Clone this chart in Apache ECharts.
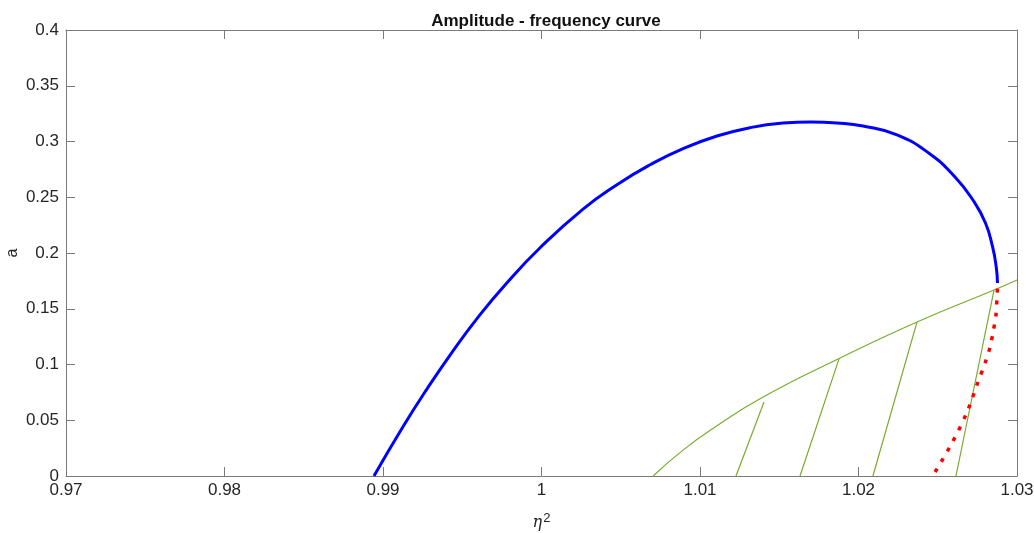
<!DOCTYPE html>
<html>
<head>
<meta charset="utf-8">
<script src="https://cdn.jsdelivr.net/npm/echarts@6/dist/echarts.min.js"></script>
<style>html,body{margin:0;padding:0;background:#fff}#c{width:1034px;height:533px}</style>
</head>
<body>
<div id="c"></div>
<script>
// Stable branch (blue)
const blueX = [0.98943, 0.99126, 0.99278, 0.99442, 0.99599, 0.99770, 0.99991, 1.00262, 1.00476, 1.00685, 1.00893, 1.01107, 1.01315, 1.01524, 1.01700, 1.01864, 1.02028, 1.02243, 1.02451, 1.02609, 1.02722, 1.02801, 1.02846, 1.02869, 1.02877];
const blueY = [0.0, 0.0442, 0.0782, 0.1123, 0.1423, 0.1714, 0.2047, 0.2394, 0.2613, 0.2791, 0.2936, 0.3049, 0.3124, 0.3165, 0.3175, 0.3166, 0.3139, 0.3060, 0.2888, 0.2682, 0.2475, 0.2269, 0.2054, 0.1874, 0.1731];
// Unstable branch (red dotted)
const redX = [1.02483, 1.0259, 1.02685, 1.02754, 1.02798, 1.0283, 1.02849, 1.02867, 1.02874, 1.02877];
const redY = [0.0036, 0.0296, 0.0574, 0.0843, 0.101, 0.1157, 0.129, 0.144, 0.1605, 0.168];
// Boundary curve (green)
const greenX = [1.00704, 1.00893, 1.01082, 1.01398, 1.01871, 1.02369, 1.02855, 1.03];
const greenY = [0.0, 0.0232, 0.0427, 0.0708, 0.1049, 0.1381, 0.1668, 0.1758];
// Hatch lines (green) : [x0, y0, x1, y1]
const hatch1 = [1.01227, 0.0, 1.01404, 0.0664];
const hatch2 = [1.01631, 0.0, 1.01877, 0.1050];
const hatch3 = [1.02091, 0.0, 1.02369, 0.1380];
const hatch4 = [1.02615, 0.0, 1.02855, 0.1668];
// Axis ticks
const xMin = 0.97, xMax = 1.03, xStep = 0.01;
const yMin = 0, yMax = 0.4, yStep = 0.05;

const zip = (xs, ys) => xs.map((x, i) => [x, ys[i]]);
const seg = h => [[h[0], h[1]], [h[2], h[3]]];

const axisColor = '#7a7a7a';
const font = '"Liberation Sans", Arial, Helvetica, sans-serif';
const green = '#77AC30';

const chart = echarts.init(document.getElementById('c'), null, {renderer: 'canvas'});
const tickIn = {show: true, inside: true, length: 9, lineStyle: {color: axisColor, width: 1}};
const hatchSeries = [hatch1, hatch2, hatch3, hatch4].map(h => ({
  type: 'line', data: seg(h), showSymbol: false, symbol: 'none',
  lineStyle: {color: green, width: 1.2}, z: 2, animation: false
}));

chart.setOption({
  animation: false,
  backgroundColor: '#fff',
  title: {
    text: 'Amplitude - frequency curve', left: 541, top: 8, textAlign: 'center',
    textStyle: {fontFamily: font, fontSize: 17, fontWeight: 'bold', color: '#111'}
  },
  grid: {left: 66, right: 17, top: 30, bottom: 57, containLabel: false, outerBoundsMode: 'none'},
  xAxis: [{
    type: 'value', min: xMin, max: xMax, interval: xStep,
    axisLine: {show: true, onZero: false, lineStyle: {color: axisColor, width: 1}},
    axisTick: tickIn, splitLine: {show: false},
    axisLabel: {margin: 6, fontFamily: font, fontSize: 17, color: '#262626'},
    name: '{i|η}{s|2}', nameLocation: 'middle', nameGap: 36, nameMoveOverlap: false,
    nameTextStyle: {
      rich: {
        i: {fontFamily: '"DejaVu Serif", serif', fontStyle: 'italic', fontSize: 16, color: '#262626', verticalAlign: 'bottom'},
        s: {fontFamily: font, fontSize: 13, color: '#262626', verticalAlign: 'top', padding: [0, 0, 6, 1]}
      }
    }
  }, {
    type: 'value', position: 'top', min: xMin, max: xMax, interval: xStep,
    axisLine: {show: true, onZero: false, lineStyle: {color: axisColor, width: 1}},
    axisTick: tickIn, axisLabel: {show: false}, splitLine: {show: false}
  }],
  yAxis: [{
    type: 'value', min: yMin, max: yMax, interval: yStep,
    axisLine: {show: true, onZero: false, lineStyle: {color: axisColor, width: 1}},
    axisTick: tickIn, splitLine: {show: false},
    axisLabel: {margin: 7, fontFamily: font, fontSize: 17, color: '#262626'},
    name: 'a', nameLocation: 'middle', nameGap: 45, nameRotate: 90, nameMoveOverlap: false,
    nameTextStyle: {fontFamily: font, fontSize: 16, color: '#262626'}
  }, {
    type: 'value', position: 'right', min: yMin, max: yMax, interval: yStep,
    axisLine: {show: true, onZero: false, lineStyle: {color: axisColor, width: 1}},
    axisTick: tickIn, axisLabel: {show: false}, splitLine: {show: false}
  }],
  series: [
    {type: 'line', data: zip(greenX, greenY), showSymbol: false, symbol: 'none', smooth: 0.5,
     lineStyle: {color: green, width: 1.2}, z: 2},
    ...hatchSeries,
    {type: 'line', data: zip(redX, redY), showSymbol: false, symbol: 'none', smooth: 0.3,
     lineStyle: {color: '#ff0000', width: 3.5, type: [4, 8], cap: 'butt'}, z: 3},
    {type: 'line', data: zip(blueX, blueY), showSymbol: false, symbol: 'none', smooth: 0.5,
     lineStyle: {color: '#0000ff', width: 3}, z: 4}
  ]
});
</script>
</body>
</html>
